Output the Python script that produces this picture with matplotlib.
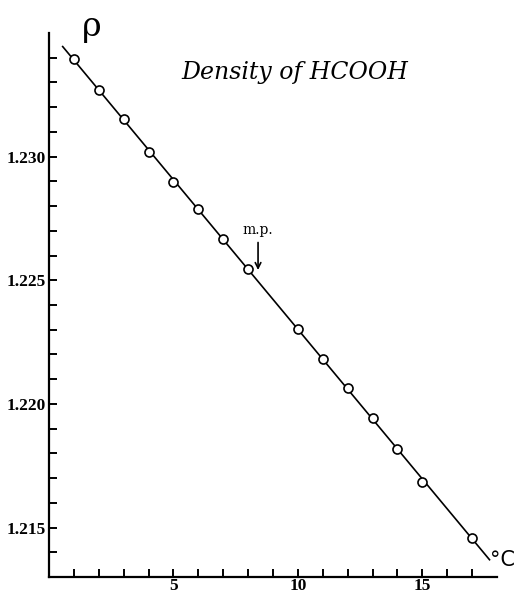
import numpy as np
import matplotlib.pyplot as plt

# density of formic acid vs temperature
temps = [1, 2, 3, 4, 5, 6, 7, 8, 10, 11, 12, 13, 14, 15, 17]
density = [1.23394, 1.23268, 1.23154, 1.23020, 1.22898, 1.22788, 1.22667,
           1.22545, 1.22301, 1.22183, 1.22065, 1.21943, 1.21817, 1.21683, 1.21459]
mp_temp = 8.4
xticks = list(range(1, 18))
xlabels = ['5', '10', '15']
yticks = [round(1.214 + 0.001 * i, 3) for i in range(21)]
ylabels = ['1.215', '1.220', '1.225', '1.230']

fig = plt.figure(figsize=(5.14, 5.96), dpi=100)
ax = fig.add_axes([0.0953, 0.0319, 0.8716, 0.9128])

# straight line through the points, drawn a little past both ends
k, b = np.polyfit(temps, density, 1)
lx = np.array([0.55, 17.7])
ax.plot(lx, k * lx + b, color='black', lw=1.2, zorder=2)
ax.plot(temps, density, 'o', ms=6.5, mfc='white', mec='black', mew=1.2, zorder=3)

ax.set_xlim(0, 18)
ax.set_ylim(1.213, 1.235)
for s in ['top', 'right']:
    ax.spines[s].set_visible(False)
for s in ['left', 'bottom']:
    ax.spines[s].set_linewidth(1.6)

lab_font = dict(family='Liberation Serif', fontsize=12.5, fontweight='bold')
ax.set_xticks(xticks)
ax.set_xticklabels([str(t) if str(t) in xlabels else '' for t in xticks], **lab_font)
ax.set_yticks(yticks)
ax.set_yticklabels([f'{t:.3f}' if f'{t:.3f}' in ylabels else '' for t in yticks], **lab_font)
ax.tick_params(direction='in', length=6, width=1.4)
ax.tick_params(axis='x', pad=1)
ax.tick_params(axis='y', pad=2)

fig.text(295 / 514, 1 - 72 / 596, 'Density of HCOOH', ha='center', va='center',
         fontsize=17, style='italic', family='DejaVu Serif')
fig.text(92 / 514, 1 - 27 / 596, 'ρ', ha='center', va='center', fontsize=24,
         family='DejaVu Serif')
fig.text(502 / 514, 1 - 560 / 596, '°C', ha='center', va='center', fontsize=15)

y_mp = k * mp_temp + b
ax.annotate('m.p.', xy=(mp_temp, y_mp + 0.00035), xytext=(mp_temp, y_mp + 0.0018),
            ha='center', va='bottom', fontsize=10, family='DejaVu Serif',
            arrowprops=dict(arrowstyle='->', color='black', lw=1.2))

fig.savefig('out.png', dpi=100)
